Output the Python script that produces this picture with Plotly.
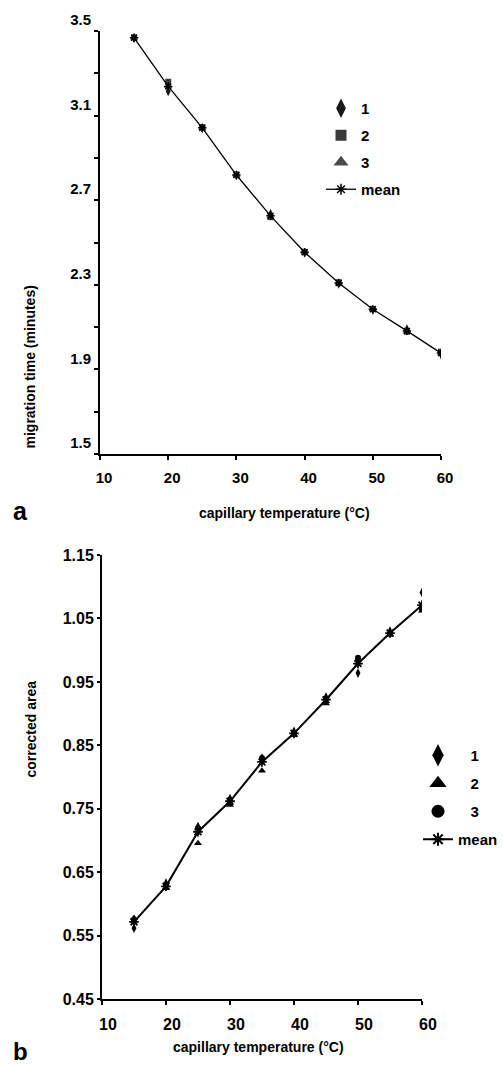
import plotly.graph_objects as go

# ---------------- data ----------------
temps = [15, 20, 25, 30, 35, 40, 45, 50, 55, 60]

# panel a: migration time (minutes)
time_rep1 = [3.466, 3.215, 3.040, 2.817, 2.635, 2.452, 2.305, 2.182, 2.090, 1.970]
time_rep2 = [3.470, 3.260, 3.045, 2.822, 2.620, 2.456, 2.312, 2.186, 2.078, 1.984]
time_rep3 = [3.468, 3.240, 3.041, 2.818, 2.622, 2.455, 2.310, 2.184, 2.079, 1.977]
time_mean = [3.468, 3.238, 3.042, 2.819, 2.626, 2.454, 2.309, 2.184, 2.082, 1.977]

# panel b: corrected area
area_rep1 = [0.562, 0.633, 0.722, 0.766, 0.830, 0.872, 0.926, 0.964, 1.030, 1.091]
area_rep2 = [0.578, 0.625, 0.696, 0.756, 0.810, 0.866, 0.916, 0.985, 1.024, 1.062]
area_rep3 = [0.575, 0.630, 0.720, 0.764, 0.830, 0.870, 0.924, 0.988, 1.027, 1.065]
area_mean = [0.572, 0.628, 0.714, 0.762, 0.824, 0.869, 0.922, 0.979, 1.027, 1.071]

x_ticks = [10, 20, 30, 40, 50, 60]
time_ticks = [1.5, 1.9, 2.3, 2.7, 3.1, 3.5]
time_minor = [1.7, 2.1, 2.5, 2.9, 3.3]
area_ticks = [0.45, 0.55, 0.65, 0.75, 0.85, 0.95, 1.05, 1.15]

# ---------------- layout helpers ----------------
W, H = 503, 1065
FAM = "Liberation Sans, Arial, Helvetica, sans-serif"


def px(p):
    return p / W


def py(p):
    return 1 - p / H


fig = go.Figure()


def add_series(x, y, name, marker, xa, ya, leg, grp, legend_marker, mode="markers", line=None):
    # data trace (not in legend)
    fig.add_trace(go.Scatter(x=x, y=y, mode=mode, name=name, marker=marker,
                             line=line, xaxis=xa, yaxis=ya, showlegend=False,
                             legendgroup=grp))
    # legend sample (no data)
    fig.add_trace(go.Scatter(x=[None], y=[None], mode=mode, name=name,
                             marker=legend_marker, line=line, xaxis=xa, yaxis=ya,
                             legend=leg, legendgroup=grp, showlegend=True))


mean_line_a = dict(color="black", width=1.3)
mean_line_b = dict(color="black", width=2)

# ---- panel a ----
add_series(temps, time_rep1, "1", dict(symbol="diamond-tall", size=7, color="#1a1a1a"),
           "x", "y", "legend", "a1", dict(symbol="diamond-tall", size=14, color="#1a1a1a"))
add_series(temps, time_rep2, "2", dict(symbol="square", size=6, color="#3a3a3a"),
           "x", "y", "legend", "a2", dict(symbol="square", size=11, color="#3a3a3a"))
add_series(temps, time_rep3, "3", dict(symbol="triangle-up", size=7, color="#4a4a4a"),
           "x", "y", "legend", "a3", dict(symbol="triangle-up", size=13, color="#4a4a4a"))
add_series(temps, time_mean, "mean",
           dict(symbol="asterisk-open", size=7, color="black", line=dict(width=1.5, color="black")),
           "x", "y", "legend", "a4",
           dict(symbol="asterisk-open", size=9, color="black", line=dict(width=1.5, color="black")),
           mode="lines+markers", line=mean_line_a)

# ---- panel b ----
add_series(temps, area_rep1, "\u00a0\u00a0\u00a01", dict(symbol="diamond-tall", size=7, color="black"),
           "x2", "y2", "legend2", "b1", dict(symbol="diamond-tall", size=16, color="black"))
add_series(temps, area_rep2, "\u00a0\u00a0\u00a02", dict(symbol="triangle-up", size=7, color="black"),
           "x2", "y2", "legend2", "b2", dict(symbol="triangle-up", size=15, color="black"))
add_series(temps, area_rep3, "\u00a0\u00a0\u00a03", dict(symbol="circle", size=6, color="black"),
           "x2", "y2", "legend2", "b3", dict(symbol="circle", size=13, color="black"))
add_series(temps, area_mean, "mean",
           dict(symbol="asterisk-open", size=8, color="black", line=dict(width=1.8, color="black")),
           "x2", "y2", "legend2", "b4",
           dict(symbol="asterisk-open", size=11, color="black", line=dict(width=2, color="black")),
           mode="lines+markers", line=mean_line_b)

tickfont15 = dict(family=FAM, size=15, color="black", weight="bold")
tickfont16 = dict(family=FAM, size=16, color="black", weight="bold")

axis_common = dict(showgrid=False, zeroline=False, showline=True, linecolor="black",
                   linewidth=2, ticks="outside", tickcolor="black", tickwidth=2,
                   automargin=False)

fig.update_layout(
    width=W, height=H,
    margin=dict(l=0, r=0, t=0, b=0, autoexpand=False),
    paper_bgcolor="white", plot_bgcolor="white",
    font=dict(family=FAM, color="black"),
    xaxis=dict(domain=[px(100), px(441)], range=[10, 60], tickvals=x_ticks,
               anchor="y", ticklen=4, ticklabelshift=4, ticklabelstandoff=5,
               tickfont=tickfont15, **axis_common),
    yaxis=dict(domain=[py(454), py(31)], range=[1.5, 3.5], tickvals=time_ticks,
               tickformat=".1f", anchor="x", ticklen=4, ticklabelshift=-11,
               minor=dict(tickvals=time_minor, ticks="outside", ticklen=4,
                          tickwidth=1.5, tickcolor="black"),
               tickfont=tickfont15, **axis_common),
    xaxis3=dict(overlaying="x", matches="x", anchor="y", range=[10, 60], tickvals=x_ticks,
                ticks="inside", ticklen=4, tickwidth=2, tickcolor="black",
                showticklabels=False, showline=False, showgrid=False, zeroline=False),
    xaxis2=dict(domain=[px(102), px(422)], range=[10, 60], tickvals=x_ticks,
                anchor="y2", ticklen=4, ticklabelshift=6, ticklabelstandoff=5,
                tickfont=tickfont16, **axis_common),
    yaxis2=dict(domain=[py(999.3), py(555)], range=[0.45, 1.15], tickvals=area_ticks,
                tickformat=".2f", anchor="x2", ticklen=3,
                tickfont=tickfont16, **axis_common),
    xaxis4=dict(overlaying="x2", matches="x2", anchor="y2", range=[10, 60], tickvals=x_ticks,
                ticks="inside", ticklen=4, tickwidth=2, tickcolor="black",
                showticklabels=False, showline=False, showgrid=False, zeroline=False),
    legend=dict(x=px(321), y=py(92), xanchor="left", yanchor="top",
                font=dict(family=FAM, size=15, color="black", weight="bold"),
                bgcolor="rgba(0,0,0,0)", tracegroupgap=4.5, itemwidth=30),
    legend2=dict(x=1, y=py(739), xanchor="right", yanchor="top",
                 font=dict(family=FAM, size=15, color="black", weight="bold"),
                 bgcolor="rgba(0,0,0,0)", tracegroupgap=5.5, itemwidth=30),
    showlegend=True,
)

ann_font = dict(family=FAM, size=14, color="black", weight="bold")
fig.add_annotation(text="a", x=px(11), y=py(511), xref="paper", yref="paper",
                   xanchor="left", yanchor="middle", showarrow=False,
                   font=dict(family=FAM, size=25, color="black", weight="bold"))
fig.add_annotation(text="capillary temperature (°C)", x=px(284), y=py(513),
                   xref="paper", yref="paper", showarrow=False, font=ann_font)
fig.add_annotation(text="migration time (minutes)", x=px(20), y=py(284),
                   xref="paper", yref="paper", showarrow=False, textangle=-90,
                   font=ann_font)
fig.add_annotation(text="b", x=px(11), y=py(1051), xref="paper", yref="paper",
                   xanchor="left", yanchor="middle", showarrow=False,
                   font=dict(family=FAM, size=24, color="black", weight="bold"))
fig.add_annotation(text="capillary temperature (°C)", x=px(258), y=py(1057),
                   xref="paper", yref="paper", showarrow=False, font=ann_font)
fig.add_annotation(text="corrected area", x=px(20), y=py(780),
                   xref="paper", yref="paper", showarrow=False, textangle=-90,
                   font=ann_font)

fig.write_html("out.html", config={"displayModeBar": False},
               post_script="document.body.style.margin='0';")
